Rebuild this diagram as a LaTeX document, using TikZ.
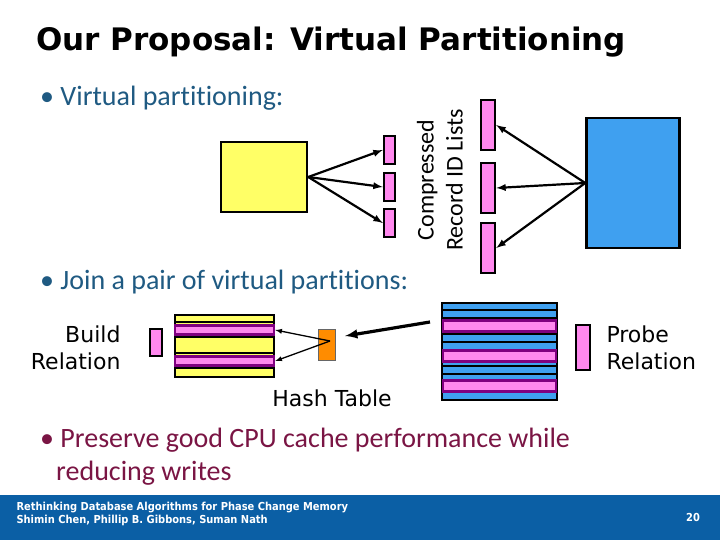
\documentclass[tikz,border=0pt]{standalone}
\usepackage{fontspec}
\setmainfont{Carlito}[Ligatures={NoCommon,NoRequired,NoContextual}]
\newfontfamily\verd{DejaVu Sans}
\newfontfamily\foot{DejaVu Sans Condensed}
\begin{document}
\begin{tikzpicture}[x=1pt,y=-1pt,
  box/.style={draw=black,line width=2.5pt},
  arr/.style={-latex,line width=2.2pt},
  bul/.style={anchor=west,inner sep=0pt,font=\fontsize{28}{33}\selectfont}]
\definecolor{bl}{HTML}{1F5A82}\definecolor{mr}{HTML}{7A1544}
\definecolor{pinkf}{HTML}{FF88EE}\definecolor{blu}{HTML}{3FA0F0}
\definecolor{yel}{HTML}{FFFF66}\definecolor{ftr}{HTML}{0B5FA5}
\tikzset{pk/.style={box,fill=pinkf}}
\useasboundingbox (0,0) rectangle (720,540);
\fill[ftr] (0,495) rectangle (720,540);
\node[anchor=west,inner sep=0pt,font=\verd\bfseries\fontsize{31}{36}\selectfont] (t) at (36,42) {Our Proposal: Virtual Partitioning};
\node[bul,text=bl] (b1) at (40,98) {\textbullet\ Virtual partitioning:};
\node[bul,text=bl] (b2) at (40,282) {\textbullet\ Join a pair of virtual partitions:};
\node[bul,text=mr,align=left,anchor=north west] (b3) at (40,428) {\textbullet\ Preserve good CPU cache performance while\\\hspace*{16pt}reducing writes};
% top diagram
\node[box,fill=yel,minimum width=86pt,minimum height=70pt,inner sep=0pt] (y) at (264,177) {};
\foreach \i/\yy in {1/150,2/187,3/223}{\node[pk,minimum width=11pt,minimum height=28pt,inner sep=0pt] (s\i) at (389.5,\yy) {};
 \draw[arr] (y.east) -- (s\i.west);}
\node[box,fill=blu,minimum width=93pt,minimum height=130pt,inner sep=0pt] (bb) at (633,183) {};
\foreach \i/\yy in {1/125,2/188,3/248}{\node[pk,minimum width=14pt,minimum height=50pt,inner sep=0pt] (p\i) at (488,\yy) {};
 \draw[arr] (bb.west) -- (p\i.east);}
\node[rotate=90,align=center,font=\fontsize{24}{29}\selectfont] (cr) at (440,180) {Compressed\\Record ID Lists};
% bottom diagram
\node[box,fill=yel,minimum width=99pt,minimum height=62pt,inner sep=0pt] (yr) at (224.5,346) {};
\foreach \yy in {322,337,353,368}\draw[line width=2pt] (175,\yy) -- (274,\yy);
\node[pk,minimum width=99pt,minimum height=9pt,inner sep=0pt,draw=violet] (r1) at (224.5,330) {};
\node[pk,minimum width=99pt,minimum height=9pt,inner sep=0pt,draw=violet] (r2) at (224.5,361) {};
\node[pk,minimum width=12pt,minimum height=27pt,inner sep=0pt] (lp) at (156,342.5) {};
\node[box,fill=orange!90!yellow,draw=black!60,line width=1pt,minimum width=17pt,minimum height=31pt,inner sep=0pt] (ht) at (326.5,345) {};
\coordinate (hc) at (330,341);
\draw[-latex,line width=1.3pt] (hc) -- (r1.east);
\draw[-latex,line width=1.3pt] (hc) -- (r2.east);
\node[box,fill=blu,minimum width=115pt,minimum height=97pt,inner sep=0pt] (br) at (499.5,351.5) {};
\foreach \yy in {310,318,326,334,342,350,358,366,374,382,390}\draw[line width=1.8pt] (442,\yy) -- (557,\yy);
\foreach \i/\yy in {1/326,2/356,3/386}\node[pk,minimum width=113pt,minimum height=11pt,inner sep=0pt,draw=violet] (q\i) at (499.5,\yy) {};
\node[pk,minimum width=14pt,minimum height=45pt,inner sep=0pt] (rp) at (583,347.5) {};
\coordinate (ae) at (430,322);
\draw[-latex,line width=3.2pt] (ae) -- (345,336);
\node[align=right,font=\verd\fontsize{22}{27}\selectfont,anchor=east] (bl1) at (124,348) {Build\\Relation};
\node[align=left,font=\verd\fontsize{22}{27}\selectfont,anchor=west] (pl1) at (603,348) {Probe\\Relation};
\node[font=\verd\fontsize{22}{24}\selectfont] (htl) at (332,398) {Hash Table};
% footer
\node[anchor=west,align=left,text=white,font=\foot\bfseries\fontsize{11}{13}\selectfont] (f1) at (13,514) {Rethinking Database Algorithms for Phase Change Memory\\Shimin Chen, Phillip B. Gibbons, Suman Nath};
\node[text=white,font=\foot\bfseries\fontsize{11}{13}\selectfont] (pg) at (693,517) {20};
\end{tikzpicture}
\end{document}
